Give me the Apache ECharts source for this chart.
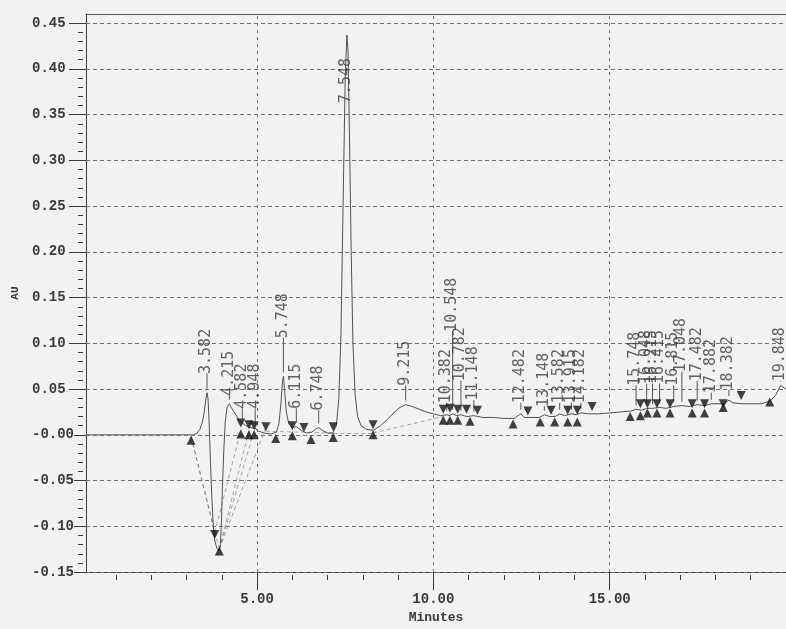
<!DOCTYPE html>
<html>
<head>
<meta charset="utf-8">
<script src="https://cdn.jsdelivr.net/npm/echarts@6/dist/echarts.min.js"></script>
<style>
  html, body { margin: 0; padding: 0; background: #f2f2f4; }
  #chart { width: 786px; height: 629px; }
</style>
</head>
<body>
<div id="chart"></div>
<script>
// Detector trace (retention time in minutes, absorbance in AU)
const traceTime = [0.15, 1.0, 2.0, 3.0, 3.2, 3.30, 3.38, 3.45, 3.50, 3.54, 3.582, 3.61, 3.64, 3.68, 3.72, 3.76,
  3.80, 3.86, 3.92, 3.96, 3.99, 4.02, 4.06, 4.10, 4.15, 4.215, 4.27, 4.33, 4.40, 4.48, 4.582, 4.68, 4.80,
  4.948, 5.05, 5.20, 5.40, 5.55, 5.62, 5.68, 5.72, 5.748, 5.78, 5.83, 5.90, 6.00, 6.115, 6.25, 6.40, 6.55,
  6.65, 6.748, 6.85, 7.00, 7.15, 7.25, 7.32, 7.38, 7.44, 7.50, 7.548, 7.58, 7.62, 7.67, 7.72, 7.78, 7.85,
  7.95, 8.10, 8.30, 8.50, 8.70, 8.90, 9.05, 9.215, 9.40, 9.60, 9.80, 10.00, 10.20, 10.382, 10.45, 10.548,
  10.65, 10.782, 10.95, 11.148, 11.40, 11.70, 12.00, 12.30, 12.40, 12.482, 12.58, 12.80, 13.00, 13.148,
  13.30, 13.45, 13.582, 13.72, 13.915, 14.05, 14.182, 14.40, 14.70, 15.00, 15.30, 15.60, 15.748, 15.90,
  16.048, 16.215, 16.415, 16.60, 16.815, 17.048, 17.25, 17.482, 17.70, 17.882, 18.10, 18.25, 18.382,
  18.50, 18.75, 19.00, 19.30, 19.55, 19.70, 19.848, 20.00];
const traceAU = [0.000, 0.000, 0.000, 0.000, 0.000, 0.002, 0.006, 0.014, 0.024, 0.036, 0.046, 0.040, 0.015,
  -0.030, -0.070, -0.100, -0.115, -0.124, -0.127, -0.120, -0.095, -0.055, -0.015, 0.015, 0.030, 0.034,
  0.030, 0.026, 0.022, 0.017, 0.013, 0.010, 0.008, 0.007, 0.004, 0.002, 0.001, 0.003, 0.012, 0.035, 0.058,
  0.064, 0.050, 0.025, 0.012, 0.008, 0.009, 0.005, 0.002, 0.003, 0.006, 0.008, 0.005, 0.002, 0.002, 0.010,
  0.040, 0.110, 0.250, 0.390, 0.437, 0.420, 0.330, 0.200, 0.100, 0.045, 0.020, 0.010, 0.006, 0.005, 0.010,
  0.017, 0.025, 0.030, 0.033, 0.031, 0.028, 0.025, 0.023, 0.021, 0.022, 0.021, 0.023, 0.021, 0.022, 0.020,
  0.021, 0.019, 0.019, 0.018, 0.018, 0.021, 0.023, 0.019, 0.019, 0.019, 0.022, 0.020, 0.020, 0.023, 0.021,
  0.023, 0.022, 0.024, 0.023, 0.023, 0.024, 0.025, 0.026, 0.028, 0.027, 0.029, 0.029, 0.030, 0.029, 0.031,
  0.032, 0.031, 0.033, 0.032, 0.034, 0.034, 0.034, 0.038, 0.035, 0.034, 0.034, 0.034, 0.037, 0.043, 0.054,
  0.050];

// Integrated peaks: retention time, apex height, height where the label starts
const peakTimes = [3.582, 4.215, 4.582, 4.948, 5.748, 6.115, 6.748, 7.548, 9.215, 10.382, 10.548, 10.782,
  11.148, 12.482, 13.148, 13.582, 13.915, 14.182, 15.748, 16.048, 16.215, 16.415, 16.815, 17.048, 17.482,
  17.882, 18.382, 19.848];
const peakApexAU = [0.046, 0.034, 0.013, 0.007, 0.064, 0.009, 0.008, 0.437, 0.033, 0.022, 0.023, 0.022,
  0.021, 0.023, 0.022, 0.023, 0.023, 0.024, 0.028, 0.029, 0.029, 0.030, 0.031, 0.032, 0.033, 0.034, 0.038,
  0.054];
const peakLabelAU = [0.066, 0.042, 0.028, 0.028, 0.105, 0.028, 0.026, 0.362, 0.053, 0.034, 0.112, 0.058,
  0.037, 0.034, 0.030, 0.034, 0.034, 0.034, 0.053, 0.055, 0.055, 0.055, 0.053, 0.068, 0.058, 0.045, 0.048,
  0.058];

// Peak start markers (upward triangles)
const startTime = [3.13, 3.93, 4.54, 4.77, 4.92, 5.53, 6.00, 6.53, 7.16, 8.29, 10.28, 10.47, 10.69, 11.04,
  12.26, 13.03, 13.44, 13.81, 14.08, 15.58, 15.87, 16.07, 16.34, 16.71, 17.34, 17.69, 18.22, 19.54];
const startAU = [-0.006, -0.127, 0.001, 0.000, 0.000, -0.004, -0.001, -0.005, -0.003, 0.000, 0.016, 0.016,
  0.016, 0.015, 0.012, 0.014, 0.014, 0.014, 0.014, 0.020, 0.021, 0.024, 0.024, 0.024, 0.024, 0.024, 0.030,
  0.036];
// Peak end markers (downward triangles)
const endTime = [3.80, 4.54, 4.77, 4.92, 5.25, 6.00, 6.33, 7.16, 8.29, 10.28, 10.47, 10.69, 10.94, 11.25,
  12.68, 13.34, 13.81, 14.08, 14.50, 15.87, 16.07, 16.34, 16.71, 17.34, 17.69, 18.22, 18.73];
const endAU = [-0.109, 0.013, 0.011, 0.010, 0.009, 0.010, 0.008, 0.009, 0.011, 0.028, 0.029, 0.028, 0.028,
  0.027, 0.026, 0.027, 0.027, 0.027, 0.031, 0.034, 0.034, 0.034, 0.034, 0.034, 0.034, 0.034, 0.043];

// Dashed integration baselines (from / to)
const baseFromTime = [3.13, 3.13, 3.80, 3.93, 3.93, 3.93, 5.25, 7.16, 8.29];
const baseFromAU = [-0.002, -0.002, -0.107, -0.125, -0.125, -0.125, 0.004, 0.002, 0.002];
const baseToTime = [3.80, 3.93, 4.54, 4.77, 4.92, 5.25, 7.16, 8.29, 10.28];
const baseToAU = [-0.107, -0.125, 0.005, 0.005, 0.005, 0.008, 0.002, 0.002, 0.020];

// Axis ticks
const yTicks = [-0.15, -0.10, -0.05, 0.00, 0.05, 0.10, 0.15, 0.20, 0.25, 0.30, 0.35, 0.40, 0.45];
const xTicks = [5, 10, 15];
const xMinorTicks = [1, 2, 3, 4, 6, 7, 8, 9, 11, 12, 13, 14, 16, 17, 18, 19];
const yMinorTicks = [];
for (let i = -15; i <= 45; i++) {
  if (i % 5 !== 0) yMinorTicks.push(i / 100);
}

const bg = '#f2f2f4';
const ink = '#3a3a3a';
const monoFont = '"Liberation Mono", "DejaVu Sans Mono", monospace';

const chart = echarts.init(document.getElementById('chart'), null, { renderer: 'canvas' });

const trace = traceTime.map((t, i) => [t, traceAU[i]]);
const peaks = peakTimes.map((t, i) => [t, peakApexAU[i], peakLabelAU[i]]);
const peakLabels = peakTimes.map((t, i) => [t, peakLabelAU[i]]);
const starts = startTime.map((t, i) => [t, startAU[i]]);
const ends = endTime.map((t, i) => [t, endAU[i]]);
const baselines = baseFromTime.map((t, i) => ({
  coords: [[t, baseFromAU[i]], [baseToTime[i], baseToAU[i]]]
}));

const xRange = { min: 0.15, max: 20 };
const yRange = { min: -0.15, max: 0.46 };
const plotBox = { left: 86, right: -3, top: 14, bottom: 54 };
const plotWidth = 786 - plotBox.left - plotBox.right;

chart.setOption({
  backgroundColor: bg,
  animation: false,
  // grid 0 carries the data and major ticks, grid 1 (same box) the minor time ticks
  grid: [Object.assign({}, plotBox), Object.assign({}, plotBox)],
  xAxis: [
    {
      gridIndex: 0, type: 'value', ...xRange, position: 'bottom',
      name: 'Minutes', nameLocation: 'middle', nameGap: 38,
      nameTextStyle: { fontFamily: monoFont, fontSize: 13, fontWeight: 'bold', color: ink },
      axisLine: { onZero: false, lineStyle: { color: ink, width: 1 } },
      axisTick: { customValues: xTicks, length: 18, lineStyle: { color: ink } },
      axisLabel: {
        customValues: xTicks, margin: 20, color: ink, fontFamily: monoFont, fontSize: 14, fontWeight: 'bold',
        formatter: v => v.toFixed(2)
      },
      splitLine: { show: false }
    },
    {
      gridIndex: 0, type: 'value', ...xRange, position: 'top',
      axisLine: { onZero: false, lineStyle: { color: '#555', width: 1 } },
      axisTick: { show: false }, axisLabel: { show: false }, splitLine: { show: false }
    },
    {
      gridIndex: 1, type: 'value', ...xRange, position: 'bottom',
      axisLine: { show: false, onZero: false },
      axisTick: { customValues: xMinorTicks, length: 5, lineStyle: { color: ink } },
      axisLabel: { show: false },
      splitLine: { show: false }
    }
  ],
  yAxis: [
    {
      gridIndex: 0, type: 'value', ...yRange, position: 'left',
      name: 'AU', nameLocation: 'middle', nameGap: 64, nameRotate: 90,
      nameTextStyle: { fontFamily: monoFont, fontSize: 11, fontWeight: 'bold', color: ink },
      axisLine: { onZero: false, lineStyle: { color: ink, width: 1 } },
      axisTick: { customValues: yTicks, length: 17, lineStyle: { color: ink } },
      axisLabel: {
        customValues: yTicks, align: 'left', margin: 54, color: ink, fontFamily: monoFont,
        fontSize: 14, fontWeight: 'bold', backgroundColor: bg,
        formatter: v => (Math.abs(v) < 1e-9 ? '-0.00' : v.toFixed(2))
      },
      splitLine: { show: false }
    },
    {
      // minor AU ticks: a right-side axis shifted onto the left edge, ticks turned outward
      gridIndex: 0, type: 'value', ...yRange, position: 'right', offset: -plotWidth,
      axisLine: { show: false, onZero: false },
      axisTick: { customValues: yMinorTicks, inside: true, length: 5, lineStyle: { color: ink } },
      axisLabel: { show: false },
      splitLine: { show: false }
    },
    {
      // companion axis for grid 1, nothing drawn
      gridIndex: 1, type: 'value', ...yRange, position: 'left',
      axisLine: { show: false, onZero: false },
      axisTick: { show: false }, axisLabel: { show: false }, splitLine: { show: false }
    }
  ],
  series: [
    {
      // dashed grid
      type: 'line', data: [], silent: true, xAxisIndex: 0, yAxisIndex: 0,
      markLine: {
        silent: true, symbol: 'none', label: { show: false },
        lineStyle: { color: '#707070', width: 1, type: [4, 3] },
        data: yTicks.map(v => ({ yAxis: v })).concat(xTicks.map(v => ({ xAxis: v, lineStyle: { type: [3, 4] } })))
      }
    },
    {
      type: 'lines', coordinateSystem: 'cartesian2d', silent: true, xAxisIndex: 0, yAxisIndex: 0,
      lineStyle: { color: '#555', width: 1, type: [4, 3] },
      data: baselines
    },
    {
      type: 'line', data: trace, showSymbol: false, silent: true, xAxisIndex: 0, yAxisIndex: 0,
      lineStyle: { color: '#505050', width: 1 }
    },
    {
      type: 'custom', data: peaks, silent: true, xAxisIndex: 0, yAxisIndex: 0,
      encode: { x: 0, y: [1, 2] },
      renderItem: (params, api) => {
        const t = api.value(0), a = api.value(1), l = api.value(2);
        if (l <= a) return null;
        const p1 = api.coord([t, a]);
        const p2 = api.coord([t, l]);
        return {
          type: 'line',
          shape: { x1: p1[0], y1: p1[1] - 4, x2: p2[0], y2: p2[1] - 1 },
          style: { stroke: '#555', lineWidth: 1 }
        };
      }
    },
    {
      type: 'scatter', data: peakLabels, silent: true, symbolSize: 1, xAxisIndex: 0, yAxisIndex: 0,
      itemStyle: { color: 'rgba(0,0,0,0)' },
      label: {
        show: true, position: [0, 0], rotate: 90, align: 'left', verticalAlign: 'middle',
        color: '#3c3c3c', fontFamily: '"DejaVu Sans Mono", monospace', fontSize: 15,
        formatter: p => p.value[0].toFixed(3)
      },
      labelLayout: { hideOverlap: false },
      z: 5
    },
    {
      type: 'scatter', data: starts, symbol: 'triangle', symbolSize: [9, 9], silent: true,
      xAxisIndex: 0, yAxisIndex: 0, itemStyle: { color: '#111' }, z: 6
    },
    {
      type: 'scatter', data: ends, symbol: 'triangle', symbolRotate: 180, symbolSize: [9, 9], silent: true,
      xAxisIndex: 0, yAxisIndex: 0, itemStyle: { color: '#111' }, z: 6
    }
  ]
});
</script>
</body>
</html>
